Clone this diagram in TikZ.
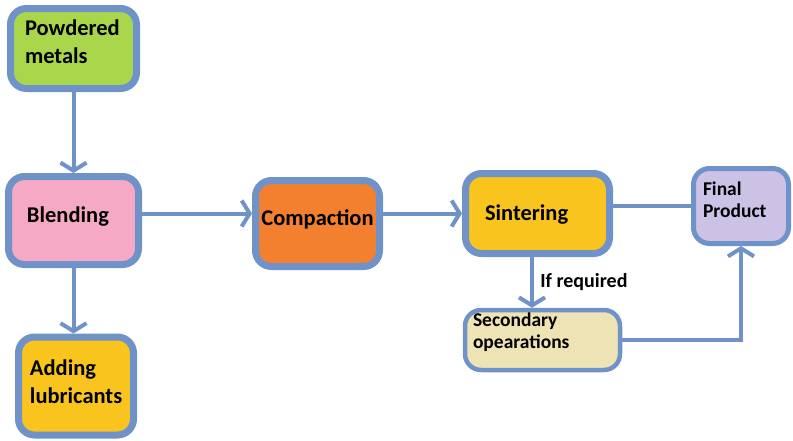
\documentclass[tikz,border=0pt]{standalone}
\usepackage{fontspec}
\setmainfont{Carlito}
\usetikzlibrary{arrows.meta}
\definecolor{edge}{HTML}{6F92C8}
\definecolor{cgreen}{HTML}{A9D64B}
\definecolor{cpink}{HTML}{F5A9C4}
\definecolor{corange}{HTML}{F3802F}
\definecolor{cyellow}{HTML}{F8C41D}
\definecolor{clilac}{HTML}{CCC2E6}
\definecolor{csand}{HTML}{EEE3B4}
\begin{document}
\begin{tikzpicture}[x=1pt,y=-1pt,
  box/.style={draw=edge,line width=7pt,rounded corners=16pt,
    minimum width=#1,font=\bfseries\fontsize{22.5}{28}\selectfont,
    align=left,inner sep=0pt,text height=16pt},
  thin box/.style={box=#1,line width=4.5pt,font=\bfseries\fontsize{19.5}{22.5}\selectfont},
  link/.style={draw=edge,line width=4pt},
  arr/.style={link,-{Straight Barb[length=8pt,width=26pt]}}]
\useasboundingbox (0,0) rectangle (793,440);
% process boxes
\node[box=126pt,minimum height=80pt,fill=cgreen,text width=97pt,text depth=43pt]
  (pm) at (73.5,48.5) {Powdered\\metals};
\node[box=130pt,minimum height=88pt,fill=cpink,text width=93pt,text depth=13pt]
  (bl) at (73.5,220.5) {Blending};
\node[box=124pt,minimum height=86pt,fill=corange,text depth=13pt]
  (cp) at (317.5,223.5) {Compaction};
\node[box=144pt,minimum height=80pt,fill=cyellow,text width=105pt,text depth=3pt]
  (si) at (537.5,213.5) {Sintering};
\node[thin box=95pt,line width=5pt,minimum height=75pt,fill=clilac,text width=76pt,text depth=38pt]
  (fp) at (741,206) {Final\\Product};
\node[thin box=155pt,minimum height=60pt,fill=csand,text width=139pt,text depth=44pt]
  (so) at (542.5,340) {Secondary\\opearations};
\node[box=115pt,minimum height=98pt,fill=cyellow,text width=92pt,text depth=38pt]
  (al) at (76,386) {Adding\\lubricants};
% flow
\draw[arr] (pm.south) -- (bl.north);
\draw[arr] (bl.east |- si.west) -- (cp.west |- si.west);
\draw[arr] (cp.east |- si.west) -- (si.west);
\draw[link] (si.east |- fp.west) -- (fp.west);
\draw[arr] ([xshift=-5.5pt]si.south) -- ([xshift=-5.5pt]si.south |- so.north)
  node[pos=0.5,right=3pt,font=\bfseries\fontsize{20}{24}\selectfont] (req) {If required};
\draw[arr] (so.east) -| (fp.south);
\draw[arr] (bl.south) -- (bl.south |- al.north);
\end{tikzpicture}
\end{document}
